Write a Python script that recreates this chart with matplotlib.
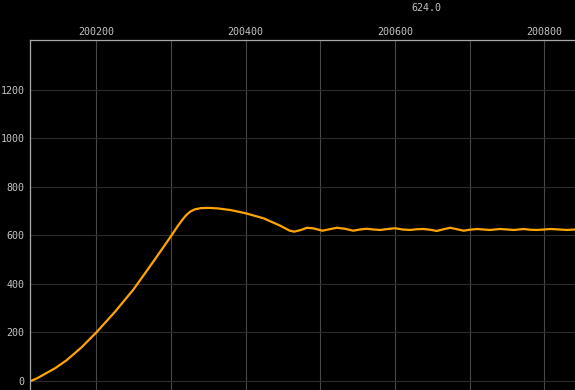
import matplotlib
matplotlib.use("Agg")
import matplotlib.pyplot as plt
from matplotlib.ticker import FixedLocator, FuncFormatter

# ---- data ----
x_vals = [200112, 200120, 200130, 200145, 200160, 200180, 200200, 200225, 200250,
          200275, 200290, 200301, 200309, 200315, 200320, 200326, 200332, 200340,
          200350, 200362, 200380, 200401, 200424, 200446, 200459, 200465, 200474,
          200482, 200490, 200503, 200512, 200522, 200533, 200544, 200553, 200562,
          200571, 200580, 200590, 200600, 200610, 200620, 200629, 200638, 200647,
          200656, 200665, 200674, 200683, 200692, 200700, 200710, 200718, 200727,
          200741, 200750, 200759, 200772, 200781, 200790, 200800, 200808, 200820,
          200830, 200841]
y_vals = [0, 10, 27, 53, 85, 138, 200, 285, 378,
          486, 552, 601, 638, 663, 682, 698, 707, 712,
          713, 711, 704, 690, 670, 640, 619, 615, 622,
          631, 629, 619, 625, 631, 627, 619, 624, 627,
          624, 622, 626, 629, 624, 622, 625, 626, 623,
          618, 625, 631, 625, 619, 623, 626, 624, 622,
          626, 624, 622, 626, 623, 622, 624, 626, 624,
          622, 624]
x_ticks = [200200, 200300, 200400, 200500, 200600, 200700, 200800]
x_labelled = [200200, 200400, 200600, 200800]
y_ticks = [0, 200, 400, 600, 800, 1000, 1200]
last_value_text = "624.0"

W, H = 575, 390
fig = plt.figure(figsize=(W / 100, H / 100), dpi=100, facecolor="black")
ax = fig.add_axes([30.3 / W, 0.0, 1 - 30.3 / W, (H - 40.3) / H])
ax.set_facecolor("black")

ax.plot(x_vals, y_vals, color="#ffa500", linewidth=1.6, solid_capstyle="butt")

ax.set_xlim(200111.6, 200841)
ax.set_ylim(-37.1, 1403.2)

ax.xaxis.set_major_locator(FixedLocator(x_ticks))
ax.xaxis.set_major_formatter(FuncFormatter(lambda v, p: f"{int(round(v))}" if int(round(v)) in x_labelled else ""))
ax.yaxis.set_major_locator(FixedLocator(y_ticks))
ax.yaxis.set_major_formatter(FuncFormatter(lambda v, p: f"{int(round(v))}"))

ax.xaxis.tick_top()
ax.tick_params(axis="x", length=0, pad=2.5, labelsize=7.2, labelcolor="#c4c4c4")
ax.tick_params(axis="y", length=0, pad=4.3, labelsize=7.2, labelcolor="#c4c4c4")
for lab in ax.get_xticklabels() + ax.get_yticklabels():
    lab.set_fontfamily("DejaVu Sans Mono")

for v in x_ticks:
    ax.axvline(v, color="#484848", linewidth=0.8, zorder=0)
for v in y_ticks:
    ax.axhline(v, color="#2e2e2e", linewidth=0.8, zorder=0)

for side in ("right", "bottom"):
    ax.spines[side].set_visible(False)
for side in ("left", "top"):
    ax.spines[side].set_color("#a8a8a8")
    ax.spines[side].set_linewidth(0.9)

fig.text(426 / W, 1 - 8 / H, last_value_text, color="#c4c4c4", fontsize=7.2,
         family="DejaVu Sans Mono", ha="center", va="center")

fig.savefig("out.png", dpi=100, facecolor="black")
